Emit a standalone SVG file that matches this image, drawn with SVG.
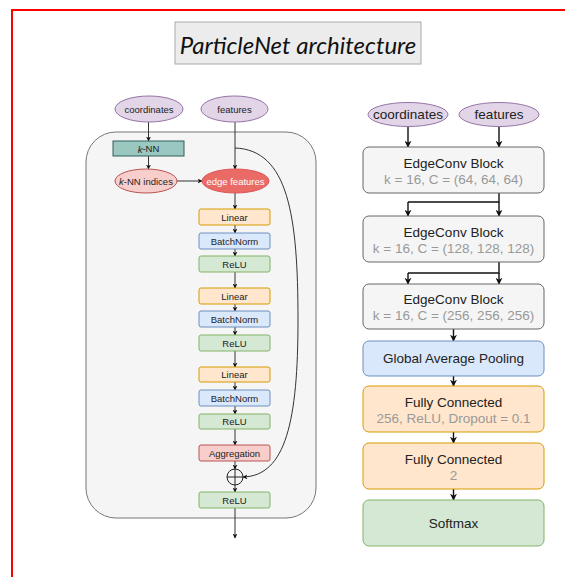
<svg xmlns="http://www.w3.org/2000/svg" width="565" height="577" viewBox="0 0 565 577">
<defs>
<marker id="ah" viewBox="0 0 10 10" refX="9" refY="5" markerWidth="5" markerHeight="5" markerUnits="userSpaceOnUse" orient="auto"><path d="M0,0 L10,5 L0,10 L3,5 z" fill="#111"/></marker>
<marker id="ah2" viewBox="0 0 10 10" refX="9" refY="5" markerWidth="7" markerHeight="7" markerUnits="userSpaceOnUse" orient="auto"><path d="M0,0 L10,5 L0,10 L3,5 z" fill="#111"/></marker>
<style>
.t{font-family:"Liberation Sans",Arial,sans-serif;fill:#222;text-anchor:middle;dominant-baseline:central}
.s{font-size:9.5px}
.m{font-size:13.5px}
.g{fill:#999}
.purple{fill:#e1d5e7;stroke:#9673a6;stroke-width:1}
.orange{fill:#ffe6cc;stroke:#d79b00;stroke-width:1}
.blue{fill:#dae8fc;stroke:#6c8ebf;stroke-width:1}
.green{fill:#d5e8d4;stroke:#82b366;stroke-width:1}
.red{fill:#f8cecc;stroke:#b85450;stroke-width:1}
.gray{fill:#f5f5f5;stroke:#666;stroke-width:1}
.l{fill:none;stroke:#333;stroke-width:1;marker-end:url(#ah)}
.r{fill:none;stroke:#111;stroke-width:1.4;marker-end:url(#ah2)}
.rn{fill:none;stroke:#111;stroke-width:1.4}
</style>
</defs>
<rect width="565" height="577" fill="#fff"/>
<path d="M12,577 L12,10 L565,10" fill="none" stroke="#f00" stroke-width="2"/>
<g id="title">
<rect x="175" y="22" width="246" height="42" fill="#ececec" stroke="#aaa" stroke-width="1"/>
<text x="298" y="44" font-family="Lato,'Open Sans',sans-serif" font-style="italic" font-size="24" fill="#111" text-anchor="middle" dominant-baseline="central">ParticleNet architecture</text>
</g>
<g id="container"><rect x="86" y="132" width="230" height="386" rx="30" fill="#f5f5f5" stroke="#777" stroke-width="1"/></g>
<g id="connectors">
<path class="l" d="M148.5,121 L148.5,141"/>
<path class="l" d="M148.5,156 L148.5,169"/>
<path class="l" d="M235,121 L235,169"/>
<path class="l" d="M177,181 L202,181"/>
<path class="l" d="M235,193 L235,209"/>
<path class="l" d="M235,225 L235,233"/>
<path class="l" d="M235,249 L235,256"/>
<path class="l" d="M235,272 L235,288"/>
<path class="l" d="M235,304 L235,311"/>
<path class="l" d="M235,327 L235,335"/>
<path class="l" d="M235,351 L235,367"/>
<path class="l" d="M235,382 L235,390"/>
<path class="l" d="M235,406 L235,414"/>
<path class="l" d="M235,429 L235,445"/>
<path class="l" d="M235,461 L235,469"/>
<path class="l" d="M235,485 L235,492"/>
<path class="l" d="M235,508 L235,538"/>
<path class="l" d="M235,148 C288,150 298,215 298,320 C298,420 286,476 243,477"/>
<path class="r" d="M408,126 L408,147"/>
<path class="r" d="M499,126 L499,147"/>
<path class="rn" d="M499,193 L499,202 L408,202"/>
<path class="r" d="M408,202 L408,216"/>
<path class="r" d="M499,202 L499,216"/>
<path class="rn" d="M499,262 L499,273 L408,273"/>
<path class="r" d="M408,273 L408,284"/>
<path class="r" d="M499,273 L499,284"/>
<path class="r" d="M453.5,329 L453.5,341"/>
<path class="r" d="M453.5,376 L453.5,386"/>
<path class="r" d="M453.5,432 L453.5,443"/>
<path class="r" d="M453.5,489 L453.5,500"/>
</g>
<g id="l-coordinates"><ellipse class="purple" cx="149" cy="109" rx="34" ry="13"/><text class="t s" x="149" y="109">coordinates</text></g>
<g id="l-features"><ellipse class="purple" cx="234.5" cy="109" rx="33.5" ry="13"/><text class="t s" x="234.5" y="109">features</text></g>
<g id="knn"><rect x="113" y="141" width="71" height="15" fill="#9ac7bf" stroke="#2f5f5a" stroke-width="1"/><text class="t s" x="148.5" y="148.5"><tspan font-style="italic">k</tspan>-NN</text></g>
<g id="knn-indices"><ellipse class="red" cx="146" cy="181" rx="31" ry="12"/><text class="t s" x="146" y="181"><tspan font-style="italic">k</tspan>-NN indices</text></g>
<g id="edge-features"><ellipse cx="235.5" cy="181" rx="33.5" ry="12" fill="#ea6b66" stroke="#d55"/><text class="t s" x="235.5" y="181" style="fill:#fff">edge features</text></g>
<g id="linear1"><rect class="orange" x="199" y="209" width="71" height="16" rx="2"/><text class="t s" x="234.5" y="217">Linear</text></g>
<g id="bn1"><rect class="blue" x="199" y="233" width="71" height="16" rx="2"/><text class="t s" x="234.5" y="241">BatchNorm</text></g>
<g id="relu1"><rect class="green" x="199" y="256" width="71" height="16" rx="2"/><text class="t s" x="234.5" y="264">ReLU</text></g>
<g id="linear2"><rect class="orange" x="199" y="288" width="71" height="16" rx="2"/><text class="t s" x="234.5" y="296">Linear</text></g>
<g id="bn2"><rect class="blue" x="199" y="311" width="71" height="16" rx="2"/><text class="t s" x="234.5" y="319">BatchNorm</text></g>
<g id="relu2"><rect class="green" x="199" y="335" width="71" height="16" rx="2"/><text class="t s" x="234.5" y="343">ReLU</text></g>
<g id="linear3"><rect class="orange" x="199" y="367" width="71" height="15" rx="2"/><text class="t s" x="234.5" y="374.5">Linear</text></g>
<g id="bn3"><rect class="blue" x="199" y="390" width="71" height="16" rx="2"/><text class="t s" x="234.5" y="398">BatchNorm</text></g>
<g id="relu3"><rect class="green" x="199" y="414" width="71" height="15" rx="2"/><text class="t s" x="234.5" y="421.5">ReLU</text></g>
<g id="aggregation"><rect class="red" x="199" y="445" width="71" height="16" rx="2"/><text class="t s" x="234.5" y="453">Aggregation</text></g>
<g id="sum"><circle cx="235" cy="477" r="8" fill="none" stroke="#222" stroke-width="1"/><path d="M227,477 L243,477 M235,469 L235,485" stroke="#222" stroke-width="1"/></g>
<g id="relu-out"><rect class="green" x="199" y="492" width="71" height="16" rx="2"/><text class="t s" x="234.5" y="500">ReLU</text></g>
<g id="r-coordinates"><ellipse class="purple" cx="408" cy="114.5" rx="40" ry="12"/><text class="t m" x="408" y="114.5">coordinates</text></g>
<g id="r-features"><ellipse class="purple" cx="499" cy="114.5" rx="40" ry="12"/><text class="t m" x="499" y="114.5">features</text></g>
<g id="edgeconv1"><rect class="gray" x="363" y="147" width="181" height="46" rx="6"/><text class="t m" x="453.5" y="163">EdgeConv Block</text><text class="t m g" x="453.5" y="179">k = 16, C = (64, 64, 64)</text></g>
<g id="edgeconv2"><rect class="gray" x="363" y="216" width="181" height="46" rx="6"/><text class="t m" x="453.5" y="232">EdgeConv Block</text><text class="t m g" x="453.5" y="248">k = 16, C = (128, 128, 128)</text></g>
<g id="edgeconv3"><rect class="gray" x="363" y="284" width="181" height="45" rx="6"/><text class="t m" x="453.5" y="299.5">EdgeConv Block</text><text class="t m g" x="453.5" y="315.5">k = 16, C = (256, 256, 256)</text></g>
<g id="gap"><rect class="blue" x="363" y="341" width="181" height="35" rx="6"/><text class="t m" x="453.5" y="358.5">Global Average Pooling</text></g>
<g id="fc1"><rect class="orange" x="363" y="386" width="181" height="46" rx="6"/><text class="t m" x="453.5" y="402">Fully Connected</text><text class="t m g" x="453.5" y="418">256, ReLU, Dropout = 0.1</text></g>
<g id="fc2"><rect class="orange" x="363" y="443" width="181" height="46" rx="6"/><text class="t m" x="453.5" y="459">Fully Connected</text><text class="t m g" x="453.5" y="475">2</text></g>
<g id="softmax"><rect class="green" x="363" y="500" width="181" height="46" rx="6"/><text class="t m" x="453.5" y="523">Softmax</text></g>
</svg>
